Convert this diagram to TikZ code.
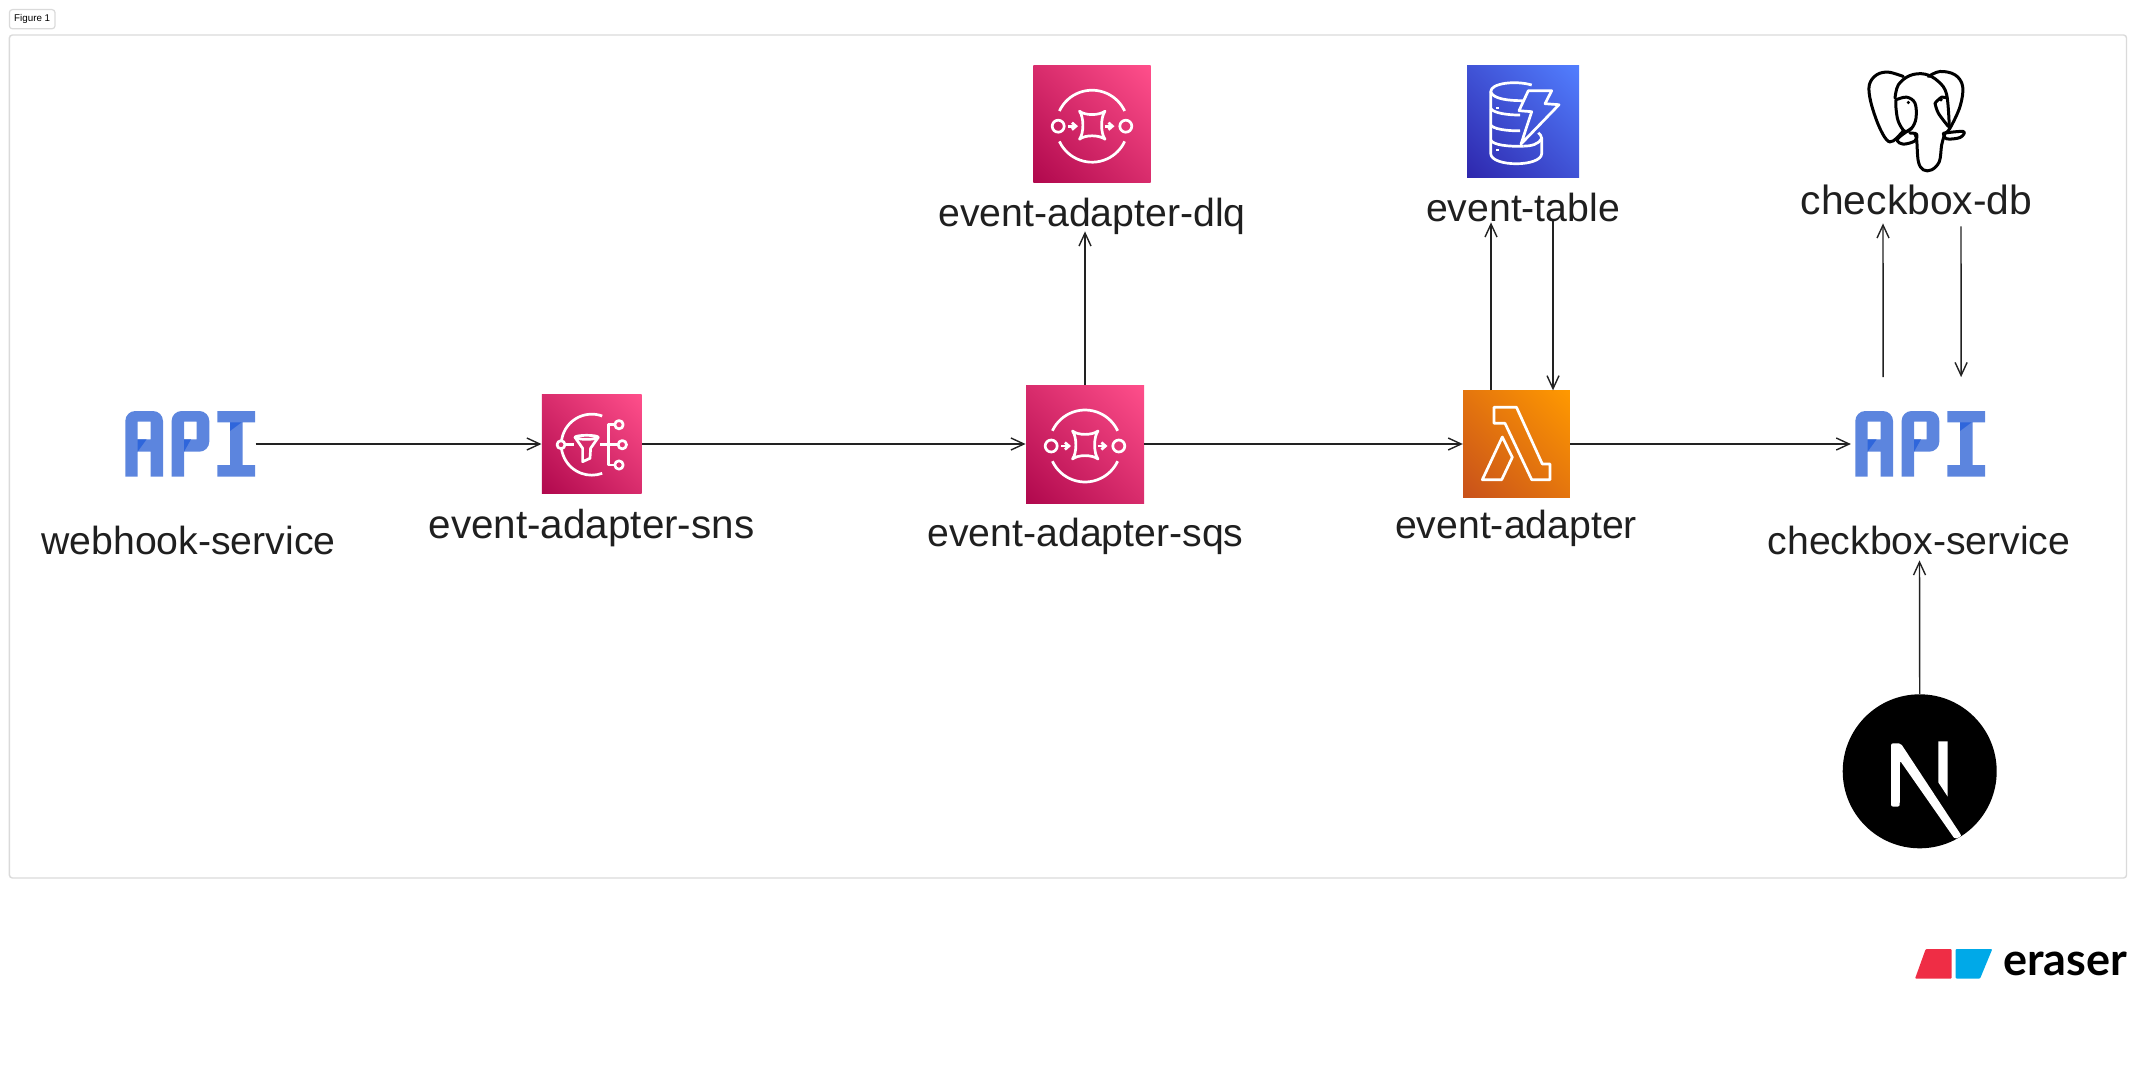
\documentclass[tikz,border=0pt]{standalone}
\usepackage{fontspec}
\setmainfont{Liberation Sans}
\newfontfamily\logofont{Lato}
\usetikzlibrary{arrows.meta,positioning,calc,shadings}

\definecolor{apiblue}{HTML}{5C85DE}
\definecolor{apidark}{HTML}{2F66DB}
\definecolor{inkline}{HTML}{222222}
\definecolor{framegray}{HTML}{DADADA}
\definecolor{pinklow}{HTML}{B0084D}
\definecolor{pinkmid}{HTML}{D82C6C}
\definecolor{pinkhigh}{HTML}{FF4F8B}
\definecolor{bluelow}{HTML}{2E27AD}
\definecolor{bluemid}{HTML}{4053D6}
\definecolor{bluehigh}{HTML}{527FFF}
\definecolor{orangelow}{HTML}{C8511B}
\definecolor{orangemid}{HTML}{E4750E}
\definecolor{orangehigh}{HTML}{FF9900}
\definecolor{logored}{HTML}{EF2D45}
\definecolor{logoblue}{HTML}{00A9E8}

\tikzset{
	>={Straight Barb[length=6.5pt,width=6pt]},
	conn/.style={color=inkline,line width=0.7pt},
	lbl/.style={font=\fontsize{#1}{22pt}\selectfont,text=black!88,inner sep=0pt,anchor=base,text depth=0pt},
	lbl/.default=19.6pt,
	iconbox/.style={inner sep=0pt,minimum width=#1,minimum height=#1},
	pinkbox/.style={iconbox=#1,lower left=pinklow,upper right=pinkhigh,upper left=pinkmid,lower right=pinkmid},
	bluebox/.style={iconbox=#1,lower left=bluelow,upper right=bluehigh,upper left=bluemid,lower right=bluemid},
	orangebox/.style={iconbox=#1,lower left=orangelow,upper right=orangehigh,upper left=orangemid,lower right=orangemid},
	whiteline/.style={draw=white,line width=1.35pt,line join=round},
	apiicon/.pic={
		\begin{scope}[shift={(-65,-33)}]
			\fill[apiblue,even odd rule] (0,65.7) [rounded corners=5pt] -- (0,0) -- (37.7,0) [sharp corners] -- (37.7,65.7) -- (25.3,65.7) -- (25.3,40.7) -- (12.3,40.7) -- (12.3,65.7) -- cycle (12.3,10.7) rectangle (25.3,28.3);
			\fill[apiblue,even odd rule] (46.3,65.7) [rounded corners=5pt] -- (46.3,0) -- (84,0) -- (84,40.7) [sharp corners] -- (58.7,40.7) -- (58.7,65.7) -- cycle (58.7,10.7) rectangle (71.3,28.3);
			\fill[apiblue] (92,0) -- (129.7,0) -- (129.7,11.3) -- (117.3,11.3) -- (117.3,54) -- (129.7,54) -- (129.7,65.7) -- (92,65.7) -- (92,54) -- (104.7,54) -- (104.7,11.3) -- (92,11.3) -- cycle;
			\fill[apidark] (12.3,28.3) -- (21.3,28.3) -- (12.3,40.7) -- cycle;
			\fill[apidark] (58.7,28.3) -- (65.7,28.3) -- (58.7,40.7) -- cycle;
			\fill[apidark] (104.7,11.3) -- (116.3,11.3) -- (104.7,20) -- cycle;
		\end{scope}
	},
	sqsicon/.pic={
		\draw[whiteline] (-32.6,-13.2) arc[start angle=155,end angle=25,radius=18pt];
		\draw[whiteline] (-32.6,17.2) arc[start angle=205,end angle=335,radius=18pt];
		\draw[whiteline] (-33.8,2) circle[radius=3pt];
		\draw[whiteline] (33.8,2) circle[radius=3pt];
		\draw[whiteline,-{Straight Barb[length=2pt,width=3.5pt]}] (-24,2) -- (-14,2);
		\draw[whiteline,-{Straight Barb[length=2pt,width=3.5pt]}] (12.5,2) -- (22.5,2);
		\draw[whiteline] (-12.5,-13) .. controls (-7,-8.5) and (7,-8.5) .. (13,-13) .. controls (8.5,-7) and (8.5,9) .. (13,15) .. controls (7,10.5) and (-7,10.5) .. (-12.5,15) .. controls (-8,9) and (-8,-7) .. (-12.5,-13) -- cycle;
	},
	snsicon/.pic={
		\draw[whiteline] (10.4,-28) arc[start angle=70,end angle=290,radius=15.25pt];
		\draw[whiteline,fill=pinkmid] (-30.8,0.7) circle[radius=2pt];
		\draw[whiteline] (27.2,-19.3) circle[radius=2.1pt];
		\draw[whiteline] (30.5,0.7) circle[radius=2.1pt];
		\draw[whiteline] (27.2,21) circle[radius=2.1pt];
		\draw[whiteline] (-27,0.7) -- (-17.5,0.7);
		\draw[whiteline] (8,0.7) -- (26.3,0.7);
		\draw[whiteline] (23,-19.3) -- (16.5,-19.3) -- (16.5,21) -- (23,21);
		\draw[whiteline] (-16.8,-6.7) -- (-9.2,4.3) -- (-9.2,17.7) -- (-1.8,14.3) -- (-1.2,4.3) -- (6.5,-6.7);
		\draw[whiteline] (-5.2,-6.7) ellipse[x radius=11.6,y radius=2];
	},
	lambdaicon/.pic={
		\draw[whiteline] (-22.5,-36.7) -- (0,-36.7) -- (25.8,20) -- (33.5,20) -- (33.5,35.7) -- (15.2,35.7) -- (-11.5,-20.7) -- (-22.5,-20.7) -- cycle;
		\draw[whiteline] (-14.2,-7) -- (-4.2,13.3) -- (-14.8,35.7) -- (-34.2,35.7) -- cycle;
	},
	ddbicon/.pic={
		\draw[whiteline] (8.7,-36.2) .. controls (-8,-41) and (-32.3,-38) .. (-32.3,-29.5) -- (-32.3,3.8) -- (-32.3,32.2) .. controls (-32.3,46) and (18.7,46) .. (18.7,32.2) -- (18.7,17.2) .. controls (18.7,15) and (17,13) .. (15.3,11.5);
		\draw[whiteline] (-32.3,-29.5) .. controls (-30,-22) and (-14,-20.5) .. (0.3,-20.5);
		\draw[whiteline] (-32.3,-12.8) .. controls (-30,-8) and (-14,-6) .. (-3,-6.2);
		\draw[whiteline] (-32.3,3.8) .. controls (-30,8) and (-14,10) .. (-3,9.5);
		\draw[whiteline] (-32.3,18.8) .. controls (-30,24) and (-14,25.5) .. (0.3,25);
		\draw[whiteline] (18.7,17.2) .. controls (16,23) and (8,25) .. (0.3,25);
		\draw[whiteline] (5.3,-30.5) -- (28.7,-30.5) -- (22,-17.5) -- (36,-16.5) -- (-2,22.8) -- (8.7,-9.5) -- (-4,-10.5) -- cycle;
		\fill[white] (-27.5,-14.5) rectangle (-24,-12.5);
		\fill[white] (-27.5,6.5) rectangle (-24,8.5);
		\fill[white] (-27.5,28) rectangle (-24,30);
	},
	pgicon/.pic={
		\begin{scope}[x=0.1667pt,y=-0.1667pt,shift={(-171,-170)},draw=black,line width=1.5pt,line cap=round,line join=round]
			\draw plot[smooth,tension=0.6] coordinates {(130,35) (85,22) (50,30) (28,60) (32,110) (55,180) (80,225) (100,228) (130,198)};
			\draw plot[smooth,tension=0.6] coordinates {(205,35) (240,20) (285,30) (308,65) (300,125) (270,190) (255,205)};
			\draw plot[smooth,tension=0.6] coordinates {(105,100) (115,60) (150,32) (195,28) (235,50) (260,90) (268,190)};
			\draw plot[smooth,tension=0.6] coordinates {(255,205) (245,240) (238,290) (215,315) (190,315) (175,290) (170,225) (165,210)};
			\draw plot[smooth,tension=0.6] coordinates {(108,105) (140,97) (165,115) (168,160) (155,190) (135,200) (115,170) (108,130) (108,105)};
			\draw plot[smooth,tension=0.6] coordinates {(225,115) (245,97) (262,100)};
			\draw plot[smooth,tension=0.6] coordinates {(225,115) (235,145) (265,185)};
			\draw plot[smooth,tension=0.6] coordinates {(155,190) (120,215) (112,228) (130,238) (165,228) (170,208) (150,205)};
			\draw plot[smooth,tension=0.6] coordinates {(252,205) (310,200) (300,218) (260,222) (250,205)};
			\fill (145,113) circle[radius=0.9pt];
			\fill (243,105) circle[radius=0.9pt];
		\end{scope}
	},
	nexticon/.pic={
		\fill[white,rounded corners=1pt] (-28.7,-28) -- (-19,-28) -- (42,64.7) -- (35.3,68) -- (-19.7,-10.7) -- (-20,35.3) -- (-28.7,35.3) -- cycle;
		\fill[white] (18.7,-30) -- (28,-30) -- (28,25.3) -- (18.7,11.3) -- cycle;
	}
}

\begin{document}
\begin{tikzpicture}[x=0.5pt,y=-0.5pt]
	\useasboundingbox (0,0) rectangle (2136,1070);
	\draw[framegray,line width=0.7pt,rounded corners=1.5pt] (9.4,35) rectangle (2126.5,878);
	\node[draw=framegray,line width=0.6pt,rounded corners=1.5pt,inner sep=0pt,minimum width=22.8pt,minimum height=9.6pt,font=\fontsize{4.9pt}{6pt}\selectfont] (figtag) at (32.2,19.2) {Figure 1};

	\node[iconbox=33pt,minimum width=65pt] (webhook) at (190.3,444) {};
	\node[pinkbox=49.9pt] (sns) at (591.8,444) {};
	\node[pinkbox=59pt] (sqs) at (1085,444) {};
	\node[pinkbox=58.6pt] (dlq) at (1092,124.2) {};
	\node[orangebox=53.3pt] (lambda) at (1516.5,444) {};
	\node[bluebox=56pt] (table) at (1523,121.2) {};
	\node[iconbox=33pt,minimum width=65pt] (checkbox) at (1920.3,444) {};
	\node[iconbox=48pt,minimum height=50pt] (pg) at (1917,121.5) {};
	\node[circle,fill=black,inner sep=0pt,minimum size=77pt] (nextjs) at (1919.7,771.3) {};

	\pic at (webhook) {apiicon};
	\pic at (sns) {snsicon};
	\pic at (sqs) {sqsicon};
	\pic at (dlq) {sqsicon};
	\pic at (lambda) {lambdaicon};
	\pic at (table) {ddbicon};
	\pic at (checkbox) {apiicon};
	\pic at (pg) {pgicon};
	\pic at (nextjs) {nexticon};

	\node[lbl] (webhooklbl) at (188.5,554) {webhook-service};
	\node[lbl=20.2pt] (snslbl) at (591.5,538) {event-adapter-sns};
	\node[lbl] (sqslbl) at (1085.5,546) {event-adapter-sqs};
	\node[lbl] (dlqlbl) at (1092,226) {event-adapter-dlq};
	\node[lbl] (lambdalbl) at (1516,538) {event-adapter};
	\node[lbl] (tablelbl) at (1523,221) {event-table};
	\node[lbl] (checkboxlbl) at (1919,554) {checkbox-service};
	\node[lbl=20.4pt] (pglbl) at (1916.5,214) {checkbox-db};

	\path[->,conn]
	(webhook) edge (sns)
	(sns) edge (sqs)
	(sqs) edge (lambda)
	(sqs.north) edge ([xshift=-3.5pt,yshift=-2.5pt]dlqlbl.south)
	(lambda) edge[shorten >=2pt] (checkbox)
	([xshift=-12.75pt]lambda.north) edge ([xshift=-16pt,yshift=-0.5pt]tablelbl.south)
	([xshift=15pt]tablelbl.south) edge ([xshift=18.25pt]lambda.north)
	([xshift=-18.6pt,yshift=16.75pt]checkbox.north) edge ([xshift=-16.75pt,yshift=-4.5pt]pglbl.south)
	([xshift=22.25pt,yshift=-6pt]pglbl.south) edge ([xshift=20.4pt,yshift=16.75pt]checkbox.north)
	(nextjs.north) edge ([xshift=0.25pt,yshift=-3pt]checkboxlbl.south);

	\fill[logored,rounded corners=0.5pt] (1925.7,949) -- (1951.7,949) -- (1951.7,978.7) -- (1915,978.7) -- cycle;
	\fill[logoblue,rounded corners=0.5pt] (1955.7,949) -- (1992.3,949) -- (1980,978.7) -- (1955.7,978.7) -- cycle;
	\node[inner sep=0pt,anchor=base west,font=\logofont\bfseries\fontsize{22.5pt}{24pt}\selectfont] (erasertxt) at (2003,975.5) {eraser};
\end{tikzpicture}
\end{document}
